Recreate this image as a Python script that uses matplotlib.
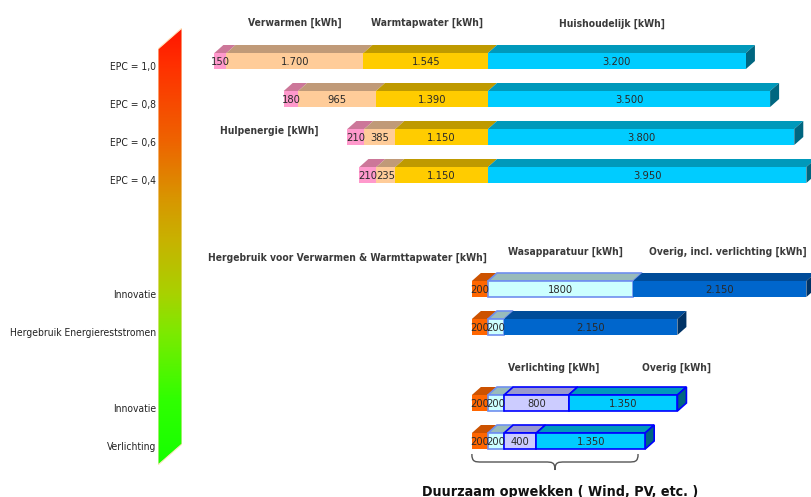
import numpy as np
import matplotlib
matplotlib.use('Agg')
import matplotlib.pyplot as plt
from matplotlib.patches import Polygon, PathPatch
from matplotlib.path import Path
from matplotlib.colors import LinearSegmentedColormap

# --- data (kWh) ---
row_labels = ['EPC = 1,0', 'EPC = 0,8', 'EPC = 0,6', 'EPC = 0,4',
              'Innovatie', 'Hergebruik Energiereststromen', 'Innovatie', 'Verlichting']
row_pos = [0, 1, 2, 3, 6, 7, 9, 10]

hulpenergie = [150, 180, 210, 210]
verwarmen = [1700, 965, 385, 235]
warmtapwater = [1545, 1390, 1150, 1150]
huishoudelijk = [3200, 3500, 3800, 3950]

hergebruik = [200, 200, 200, 200]
wasapparatuur = [1800, 200, 200, 200]
overig_incl = [2150, 2150, 0, 0]
verlichting = [0, 0, 800, 400]
overig = [0, 0, 1350, 1350]

# --- layout helpers (pixel -> data) ---
W, H = 811, 497
X0_PX, PX_KWH = 488, 0.0806
Y0_PX, ROW_PX = 61, 38


def X(px):
    return (px - X0_PX) / PX_KWH


def Y(px):
    return (px - Y0_PX) / ROW_PX


DX = 9 / PX_KWH
DY = 8 / ROW_PX
BH = 16 / ROW_PX


def fmt(v, sep=True):
    s = f'{v:,}'
    return s.replace(',', '.') if sep else s.replace(',', '')


def bar3d(ax, y, x0, w, front, top, side, label, edge=None, last=False, lw=1.2):
    x1 = x0 + w
    yt, yb = y - BH / 2, y + BH / 2
    ec = edge if edge else 'none'
    ax.add_patch(Polygon([(x0, yt), (x1, yt), (x1 + DX, yt - DY), (x0 + DX, yt - DY)],
                         closed=True, fc=top, ec=ec, lw=lw, zorder=2))
    ax.add_patch(Polygon([(x0, yt), (x1, yt), (x1, yb), (x0, yb)],
                         closed=True, fc=front, ec=ec, lw=lw, zorder=3))
    if last:
        ax.add_patch(Polygon([(x1, yt), (x1 + DX, yt - DY), (x1 + DX, yb - DY), (x1, yb)],
                             closed=True, fc=side, ec=ec, lw=lw, zorder=2))
    ax.text(x0 + w / 2, y + 0.02, label, ha='center', va='center', fontsize=8,
            fontstretch='condensed', color='#2a2a2a', zorder=5)


fig = plt.figure(figsize=(W / 100, H / 100), dpi=100)
ax = fig.add_axes([0, 0, 1, 1])
ax.set_xlim(X(0), X(W))
ax.set_ylim(Y(H), Y(0))
ax.axis('off')

# top group: right-aligned on Huishoudelijk start
top_series = [
    (hulpenergie, '#FF99CC', '#CC7799', '#99557a', True),
    (verwarmen, '#FFCC99', '#C09A78', '#907050', True),
    (warmtapwater, '#FFCC00', '#BF9A00', '#8a7000', True),
    (huishoudelijk, '#00CCFF', '#0099BB', '#006680', True),
]
for i in range(4):
    y = row_pos[i]
    x = -(hulpenergie[i] + verwarmen[i] + warmtapwater[i])
    for k, (vals, fc, tc, sc, sep) in enumerate(top_series):
        bar3d(ax, y, x, vals[i], fc, tc, sc, fmt(vals[i], sep), last=(k == 3))
        x += vals[i]

# bottom group
bottom_series = [
    (hergebruik, '#FF6600', '#CC5200', '#993d00', None, True),
    (wasapparatuur, '#CCFFFF', '#99BBBB', '#779999', '#6F8FEF', False),
    (overig_incl, '#0066CC', '#004C99', '#003366', None, True),
    (verlichting, '#CCCCFF', '#9999CC', '#7777aa', '#0000FF', True),
    (overig, '#00CCFF', '#0099BB', '#006680', '#0000FF', True),
]
for i in range(4):
    y = row_pos[4 + i]
    x = -hergebruik[i]
    present = [k for k, s in enumerate(bottom_series) if s[0][i] > 0]
    for k in present:
        vals, fc, tc, sc, ec, sep = bottom_series[k]
        bar3d(ax, y, x, vals[i], fc, tc, sc, fmt(vals[i], sep), edge=ec,
              last=(k == present[-1]))
        x += vals[i]

# row labels
for lab, p in zip(row_labels, row_pos):
    ax.text(X(156), p + 6 / ROW_PX, lab, ha='right', va='center', fontsize=7.4,
            fontstretch='condensed', color='#222222')

# series headers
hdr = dict(ha='center', va='center', fontsize=7.4, fontweight='bold',
           fontstretch='condensed', color='#3a3a3a')
ax.text(X(295), Y(23), 'Verwarmen [kWh]', **hdr)
ax.text(X(427), Y(23), 'Warmtapwater [kWh]', **hdr)
ax.text(X(612), Y(24), 'Huishoudelijk [kWh]', **hdr)
ax.text(X(269), Y(131), 'Hulpenergie [kWh]', **hdr)
ax.text(X(347), Y(258), 'Hergebruik voor Verwarmen & Warmttapwater [kWh]', **hdr)
ax.text(X(565), Y(252), 'Wasapparatuur [kWh]', **hdr)
ax.text(X(728), Y(252), 'Overig, incl. verlichting [kWh]', **hdr)
ax.text(X(554), Y(368), 'Verlichting [kWh]', **hdr)
ax.text(X(676), Y(368), 'Overig [kWh]', **hdr)

# curly brace under the last bars
bx0 = -hergebruik[3]
bx1 = -hergebruik[3] + wasapparatuur[3] + verlichting[3] + overig[3] + DX
bm = (bx0 + bx1) / 2
ya, yh, yt = Y(454), Y(462), Y(470)
r = 10 / PX_KWH
verts = [(bx0, ya), (bx0, yh), (bx0 + r * 0.3, yh), (bx0 + r, yh),
         (bm - r, yh),
         (bm - r * 0.3, yh), (bm, yh), (bm, yt),
         (bm, yh), (bm + r * 0.3, yh), (bm + r, yh),
         (bx1 - r, yh),
         (bx1 - r * 0.3, yh), (bx1, yh), (bx1, ya)]
codes = [Path.MOVETO, Path.CURVE4, Path.CURVE4, Path.CURVE4,
         Path.LINETO,
         Path.CURVE4, Path.CURVE4, Path.CURVE4,
         Path.CURVE4, Path.CURVE4, Path.CURVE4,
         Path.LINETO,
         Path.CURVE4, Path.CURVE4, Path.CURVE4]
ax.add_patch(PathPatch(Path(verts, codes), fc='none', ec='#555555', lw=1.0, zorder=4))

ax.text(X(560), Y(496), 'Duurzaam opwekken ( Wind, PV, etc. )', ha='center', va='baseline',
        fontsize=10.3, fontweight='bold', fontstretch='condensed', color='#111111')

# gradient arrow bar on the left
gax = fig.add_axes([158 / W, (H - 465) / H, 24 / W, 437 / H])
gax.set_xlim(0, 1)
gax.set_ylim(0, 1)
gax.axis('off')
cmap = LinearSegmentedColormap.from_list('epc', [
    (0.0, '#15FF00'), (0.15, '#30FF00'), (0.30, '#7CEA00'), (0.39, '#A8D200'),
    (0.515, '#C8B200'), (0.61, '#D89600'), (0.74, '#EE6400'), (0.91, '#FF3200'),
    (1.0, '#FF1500')])
grad = np.linspace(0, 1, 256).reshape(-1, 1)
im = gax.imshow(grad, cmap=cmap, origin='lower', aspect='auto', extent=[0, 1, 0, 1])
shape = Polygon([(0, 0), (1, 21 / 437), (1, 1), (0, 416 / 437)], closed=True,
                fc='none', ec='#FFE6C0', lw=0.8, transform=gax.transData)
gax.add_patch(shape)
im.set_clip_path(shape)

fig.savefig('out.png', dpi=100)
